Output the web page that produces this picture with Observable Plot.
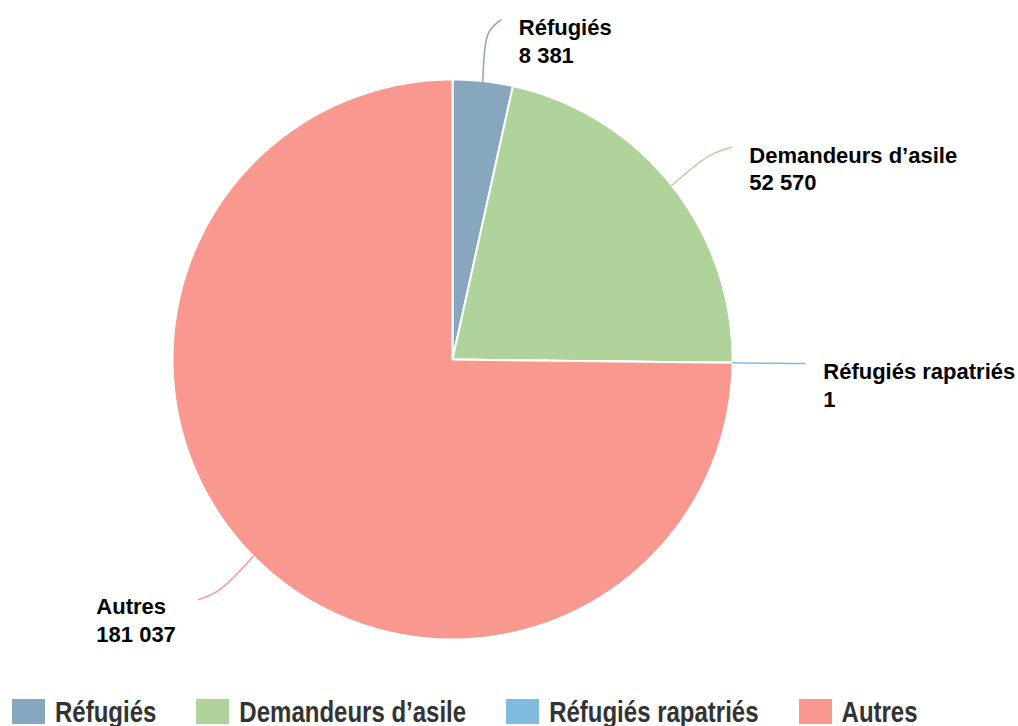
<!DOCTYPE html>
<html>
<head>
<meta charset="utf-8">
<script src="https://cdn.jsdelivr.net/npm/d3@7"></script>
<script src="https://cdn.jsdelivr.net/npm/@observablehq/plot@0.6"></script>
<style>
  html, body { margin: 0; padding: 0; background: #fff; }
  body { width: 1018px; height: 726px; overflow: hidden; font-family: "Liberation Sans", Arial, sans-serif; }
  #legend { display: flex; height: 36px; padding-top: 9px; box-sizing: border-box; padding-left: 12px; }
  .item { display: flex; align-items: flex-start; margin-right: 40px; }
  .sw { width: 33px; height: 25px; margin-right: 10px; }
  .lbl { font-size: 24px; font-weight: bold; color: #333; line-height: 25px; height: 25px; transform: scaleY(1.2); transform-origin: 50% 50%; white-space: nowrap; }
</style>
</head>
<body>
<div id="chart"></div>
<div id="legend"></div>
<script>
const categories = ["Réfugiés", "Demandeurs d’asile", "Réfugiés rapatriés", "Autres"];
const values = [8381, 52570, 1, 181037];
const colors = ["#86a7bd", "#b0d39b", "#80bbe0", "#f9988f"];

const fr = d3.formatLocale({decimal: ",", thousands: " ", grouping: [3], currency: ["", " €"]});
const fmt = fr.format(",d");

const total = d3.sum(values);
// angles clockwise from 12 o'clock
const slices = [];
let acc = 0;
values.forEach((v, i) => {
  const a0 = acc / total * 2 * Math.PI;
  acc += v;
  const a1 = acc / total * 2 * Math.PI;
  slices.push({cat: categories[i], value: v, a0, a1, mid: (a0 + a1) / 2});
});

// polygon points for each slice (unit circle, y up)
const slicePts = [];
for (const s of slices) {
  slicePts.push({cat: s.cat, x: 0, y: 0});
  const n = Math.max(1, Math.ceil((s.a1 - s.a0) / (Math.PI / 360)));
  for (let k = 0; k <= n; k++) {
    const a = s.a0 + (s.a1 - s.a0) * k / n;
    slicePts.push({cat: s.cat, x: Math.sin(a), y: Math.cos(a)});
  }
  slicePts.push({cat: s.cat, x: 0, y: 0});
}

// leader lines
const leaderPts = [];
const labelPts = [];
for (const s of slices) {
  const side = Math.sin(s.mid) >= 0 ? 1 : -1;
  const p0 = {x: Math.sin(s.mid), y: Math.cos(s.mid)};
  const p1 = {x: 1.17 * Math.sin(s.mid), y: 1.17 * Math.cos(s.mid)};
  const p2 = {x: 1.22 * Math.sin(s.mid) + side * 0.04, y: 1.22 * Math.cos(s.mid)};
  [p0, p1, p2].forEach(p => leaderPts.push({cat: s.cat, ...p}));
  labelPts.push({cat: s.cat, side, x: p2.x, y: p2.y, text: s.cat + "\n" + fmt(s.value)});
}

const chart = Plot.plot({
  width: 1018,
  height: 690,
  marginLeft: 172,
  marginRight: 286,
  marginTop: 79,
  marginBottom: 51,
  x: {domain: [-1, 1], axis: null},
  y: {domain: [-1, 1], axis: null},
  color: {domain: categories, range: colors},
  style: {fontFamily: "'Liberation Sans', Arial, sans-serif", background: "#fff", overflow: "visible"},
  marks: [
    Plot.line(slicePts, {x: "x", y: "y", z: "cat", fill: "cat", stroke: "white", strokeWidth: 2, strokeLinejoin: "round"}),
    Plot.line(leaderPts, {x: "x", y: "y", z: "cat", stroke: "cat", strokeWidth: 1.5, curve: "catmull-rom"}),
    Plot.text(labelPts.filter(d => d.side > 0), {x: "x", y: "y", text: "text", textAnchor: "start", lineAnchor: "top", dx: 18, dy: -4, fontSize: 22, fontWeight: "bold", fill: "black", lineHeight: 1.25}),
    Plot.text(labelPts.filter(d => d.side < 0), {x: "x", y: "y", text: "text", textAnchor: "start", lineAnchor: "top", dx: -102, dy: -5, fontSize: 22, fontWeight: "bold", fill: "black", lineHeight: 1.25})
  ]
});
document.getElementById("chart").appendChild(chart);

const legend = document.getElementById("legend");
categories.forEach((c, i) => {
  const it = document.createElement("div");
  it.className = "item";
  const sw = document.createElement("div");
  sw.className = "sw";
  sw.style.background = colors[i];
  const lb = document.createElement("div");
  lb.className = "lbl";
  lb.textContent = c;
  it.appendChild(sw);
  it.appendChild(lb);
  legend.appendChild(it);
});
</script>
</body>
</html>
